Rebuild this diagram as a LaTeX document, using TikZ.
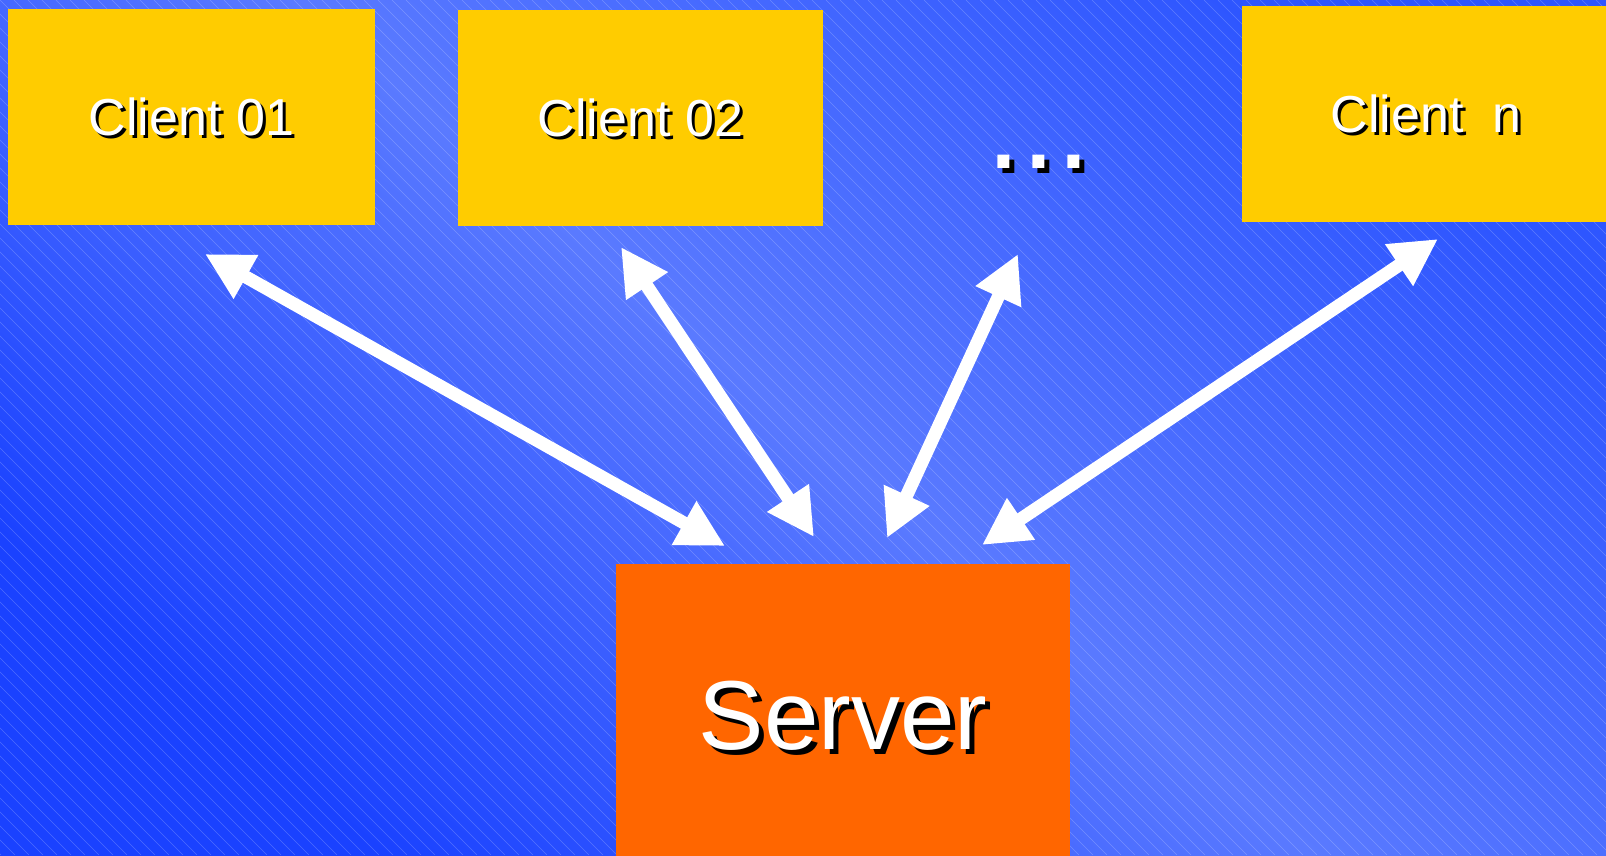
\documentclass[tikz,border=0pt]{standalone}
\usepackage{fontspec}
\setmainfont{Liberation Sans}
\usetikzlibrary{arrows.meta}

\definecolor{bgdeep}{RGB}{26,66,255}
\definecolor{bglight}{RGB}{90,122,255}
\definecolor{bgtop}{RGB}{46,86,255}
\definecolor{clientyellow}{RGB}{255,204,0}
\definecolor{serverorange}{RGB}{255,102,0}

% white text with a black drop shadow offset down and right
\newcommand\dropshadow[2]{\rlap{\kern#1\smash{\raisebox{-#1}{\textcolor{black}{#2}}}}#2}

\begin{document}
\begin{tikzpicture}[x=1pt,y=-1pt,
  stripe/.style={white, opacity=0.22, line width=0.6pt},
  client/.style={fill=clientyellow, text=white, inner sep=0pt,
    minimum height=216pt, font=\fontsize{52}{60}\selectfont},
  server/.style={fill=serverorange, text=white, inner sep=0pt,
    font=\fontsize{98}{110}\selectfont},
  biarrow/.style={draw=white, line width=13pt,
    arrows={Triangle[length=47pt,width=47pt]-Triangle[length=47pt,width=47pt]}}]

\useasboundingbox (0,0) rectangle (1606,855);

% background: diagonal gradient with fine diagonal stripes
\shade[bottom color=bgdeep, top color=bgtop, middle color=bglight, shading angle=-40]
  (0,0) rectangle (1606,855);
\begin{scope}
  \clip (0,0) rectangle (1606,855);
  \foreach \c in {-868,-854,...,1610}
    \draw[stripe] (\c,0) -- ++(855,855);
\end{scope}

% clients and server
\node[client, minimum width=367pt] (c1) at (191.5,117) {\dropshadow{3pt}{Client 01}};
\node[client, minimum width=365pt] (c2) at (640.5,118) {\dropshadow{3pt}{Client 02}};
\node[client, minimum width=368pt] (cn) at (1426,114) {\dropshadow{3pt}{Client\ \ n}};
\node[server, minimum width=454pt, minimum height=304pt] (srv) at (843,716)
  {\dropshadow{5pt}{Server}};
\node[anchor=base west, inner sep=0pt, text=white,
  font=\fontsize{125}{130}\selectfont] (dots) at (986.6,168) {\dropshadow{5pt}{...}};

% arrow end points
\coordinate (a1c) at (205,254);  \coordinate (a1s) at (725,546);
\coordinate (a2c) at (621,247);  \coordinate (a2s) at (814,537);
\coordinate (a3c) at (1018,254); \coordinate (a3s) at (887,538);
\coordinate (a4c) at (1438,239); \coordinate (a4s) at (982,545);

\draw[biarrow] (a1c) -- (a1s);
\draw[biarrow] (a2c) -- (a2s);
\draw[biarrow] (a3c) -- (a3s);
\draw[biarrow] (a4c) -- (a4s);

\end{tikzpicture}
\end{document}
